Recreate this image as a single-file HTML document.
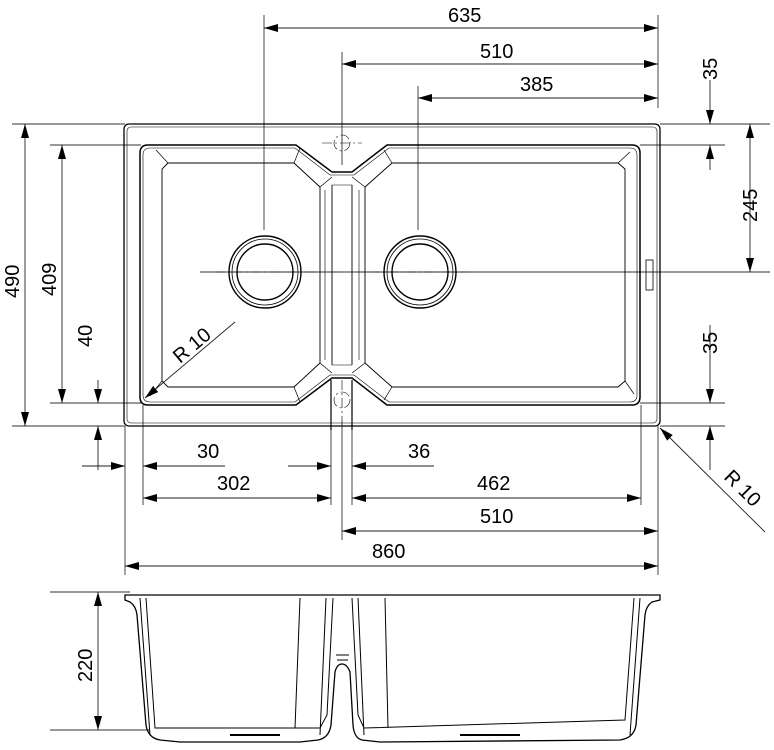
<!DOCTYPE html>
<html><head><meta charset="utf-8"><style>
html,body{margin:0;padding:0;background:#fff}
svg{display:block}
text{font-family:"Liberation Sans",sans-serif;font-size:20px;fill:#000}
</style></head><body>
<svg width="774" height="750" viewBox="0 0 774 750" xmlns="http://www.w3.org/2000/svg">
<defs>
<marker id="a" viewBox="0 0 14 8" refX="14" refY="4" markerWidth="14" markerHeight="8" markerUnits="userSpaceOnUse" orient="auto-start-reverse"><path d="M0,0L14,4L0,8Z" fill="#000"/></marker>
</defs>
<g fill="none" stroke="#000" stroke-width="1">
<g stroke="#333" stroke-width="0.9">
<line x1="264" y1="15" x2="264" y2="230"/>
<line x1="342" y1="52" x2="342" y2="165"/>
<line x1="418" y1="86" x2="418" y2="230"/>
<line x1="658" y1="15" x2="658" y2="108"/>
<line x1="660" y1="124" x2="770" y2="124"/>
<line x1="640" y1="145" x2="725" y2="145"/>
<line x1="200" y1="272" x2="770" y2="272"/>
<line x1="640" y1="403" x2="725" y2="403"/>
<line x1="660" y1="426" x2="725" y2="426"/>
<line x1="12" y1="124" x2="125" y2="124"/>
<line x1="50" y1="145" x2="141" y2="145"/>
<line x1="12" y1="426" x2="125" y2="426"/>
<line x1="50" y1="403" x2="141" y2="403"/>
<line x1="125" y1="426" x2="125" y2="575"/>
<line x1="143" y1="405" x2="143" y2="505"/>
<line x1="331" y1="380" x2="331" y2="505"/>
<line x1="352" y1="380" x2="352" y2="505"/>
<line x1="342" y1="420" x2="342" y2="540"/>
<line x1="641" y1="405" x2="641" y2="505"/>
<line x1="658" y1="426" x2="658" y2="575"/>
<line x1="50" y1="592" x2="130" y2="592"/>
<line x1="50" y1="730" x2="150" y2="730"/>
</g>
<g stroke="#222" stroke-width="0.9">
<line x1="264" y1="28" x2="658" y2="28" marker-start="url(#a)" marker-end="url(#a)"/>
<line x1="342" y1="64" x2="658" y2="64" marker-start="url(#a)" marker-end="url(#a)"/>
<line x1="418" y1="98" x2="658" y2="98" marker-start="url(#a)" marker-end="url(#a)"/>
<line x1="710" y1="80" x2="710" y2="124" marker-end="url(#a)"/>
<line x1="710" y1="170" x2="710" y2="145" marker-end="url(#a)"/>
<line x1="750" y1="124" x2="750" y2="272" marker-start="url(#a)" marker-end="url(#a)"/>
<line x1="710" y1="325" x2="710" y2="403" marker-end="url(#a)"/>
<line x1="710" y1="470" x2="710" y2="426" marker-end="url(#a)"/>
<line x1="25" y1="124" x2="25" y2="426" marker-start="url(#a)" marker-end="url(#a)"/>
<line x1="62" y1="145" x2="62" y2="403" marker-start="url(#a)" marker-end="url(#a)"/>
<line x1="98" y1="380" x2="98" y2="403" marker-end="url(#a)"/>
<line x1="98" y1="470" x2="98" y2="426" marker-end="url(#a)"/>
<line x1="82" y1="466" x2="125" y2="466" marker-end="url(#a)"/>
<line x1="225" y1="466" x2="143" y2="466" marker-end="url(#a)"/>
<line x1="288" y1="466" x2="331" y2="466" marker-end="url(#a)"/>
<line x1="434" y1="466" x2="352" y2="466" marker-end="url(#a)"/>
<line x1="143" y1="498" x2="331" y2="498" marker-start="url(#a)" marker-end="url(#a)"/>
<line x1="352" y1="498" x2="641" y2="498" marker-start="url(#a)" marker-end="url(#a)"/>
<line x1="342" y1="531" x2="658" y2="531" marker-start="url(#a)" marker-end="url(#a)"/>
<line x1="125" y1="566" x2="658" y2="566" marker-start="url(#a)" marker-end="url(#a)"/>
<line x1="98" y1="592" x2="98" y2="730" marker-start="url(#a)" marker-end="url(#a)"/>
<line x1="235" y1="322" x2="145" y2="398" marker-end="url(#a)"/>
<line x1="765" y1="532" x2="660" y2="428" marker-end="url(#a)"/>
</g>
<rect x="124" y="124" width="536" height="302" rx="5" stroke-width="1.3"/>
<rect x="127" y="127" width="530" height="296" rx="4" stroke-width="0.6"/>
<path d="M148,145 L296,145 L332,172 L352,172 L387,145 L632,145 Q640,145 640,153 L640,397 Q640,405 632,405 L387,405 L352,378 L332,378 L296,405 L148,405 Q140,405 140,397 L140,153 Q140,145 148,145Z" stroke-width="1.5"/>
<path d="M150,148 L295,148 L330,175 L354,175 L389,148 L630,148 Q637,148 637,155 L637,395 Q637,402 630,402 L389,402 L354,375 L330,375 L295,402 L150,402 Q143,402 143,395 L143,155 Q143,148 150,148Z" stroke-width="0.6"/>
<path d="M168,163 L294,163 L320,187 L320,363 L294,387 L168,387 L162,381 L162,169Z" stroke-width="0.9"/>
<path d="M156,150 L168,163 M294,163 L300,148 M320,187 L332,177 M320,363 L332,373 M294,387 L300,402 M162,381 L150,396" stroke-width="0.7"/>
<path d="M392,163 L618,163 L625,169 L625,381 L618,387 L392,387 L365,363 L365,187Z" stroke-width="0.9"/>
<path d="M630,152 L618,163 M392,163 L384,150 M365,187 L352,177 M365,363 L352,373 M392,387 L384,400 M625,381 L634,394" stroke-width="0.7"/>
<line x1="332" y1="185" x2="332" y2="365" stroke-width="0.9"/>
<line x1="352" y1="185" x2="352" y2="365" stroke-width="0.9"/>
<line x1="325" y1="190" x2="325" y2="360" stroke-width="0.6"/>
<line x1="359" y1="190" x2="359" y2="360" stroke-width="0.6"/>
<line x1="332" y1="185" x2="352" y2="185" stroke-width="0.6"/>
<line x1="332" y1="365" x2="352" y2="365" stroke-width="0.6"/>
<line x1="331" y1="380" x2="331" y2="430" stroke-width="1.2"/>
<line x1="352" y1="380" x2="352" y2="430" stroke-width="1.2"/>
<rect x="646" y="260" width="7" height="30" stroke-width="0.8"/>
<g stroke-width="1.4">
<circle cx="265" cy="272" r="36"/><circle cx="265" cy="272" r="33" stroke-width="0.8"/><circle cx="265" cy="272" r="28"/>
<circle cx="420" cy="272" r="36"/><circle cx="420" cy="272" r="33" stroke-width="0.8"/><circle cx="420" cy="272" r="28"/>
</g>
<g stroke-width="0.6" stroke-dasharray="10,3,2,3">
<circle cx="342" cy="143" r="8"/><circle cx="342" cy="400" r="8"/>
<line x1="322" y1="143" x2="362" y2="143"/><line x1="342" y1="380" x2="342" y2="420"/>
<line x1="215" y1="272" x2="315" y2="272"/><line x1="370" y1="272" x2="470" y2="272"/>
</g>
<g stroke-width="1">
<path d="M125,595 L660,595 L660,600 L652,602 Q646,606 645,615 L636,725 Q634,738 620,740 L380,742 L362,740 Q354,738 353,725 L350,672 Q347,664 342,664 Q337,664 335,672 L331,725 Q329,738 318,740 L300,742 L180,742 L160,740 Q148,738 146,725 L137,615 Q136,606 130,602 L125,600Z" stroke-width="1.3"/>
<path d="M140,598 L150,735 M146,598 L155,728 L320,728 L327,715 L333,598 M300,598 L295,728 M352,598 L358,715 L364,728 L625,720 L634,598 M640,598 L630,735 M385,598 L388,728 M337,660 L348,660 M336,655 L349,655 M326,598 L320,735 M358,598 L364,735"/>
<path d="M230,735 L280,735 M460,735 L520,735" stroke-width="2"/>
</g>
</g>
<text x="448" y="22">635</text>
<text x="480" y="58">510</text>
<text x="520" y="91">385</text>
<text x="197" y="458">30</text>
<text x="408" y="458">36</text>
<text x="217" y="490">302</text>
<text x="477" y="490">462</text>
<text x="480" y="523">510</text>
<text x="372" y="558">860</text>
<text transform="translate(717,80) rotate(-90)">35</text>
<text transform="translate(757,222) rotate(-90)">245</text>
<text transform="translate(717,354) rotate(-90)">35</text>
<text transform="translate(19,298) rotate(-90)">490</text>
<text transform="translate(56,296) rotate(-90)">409</text>
<text transform="translate(92,347) rotate(-90)">40</text>
<text transform="translate(92,682) rotate(-90)">220</text>
<text transform="translate(180,364) rotate(-40)">R  10</text>
<text transform="translate(723,478) rotate(45)">R  10</text>
</svg>
</body></html>
